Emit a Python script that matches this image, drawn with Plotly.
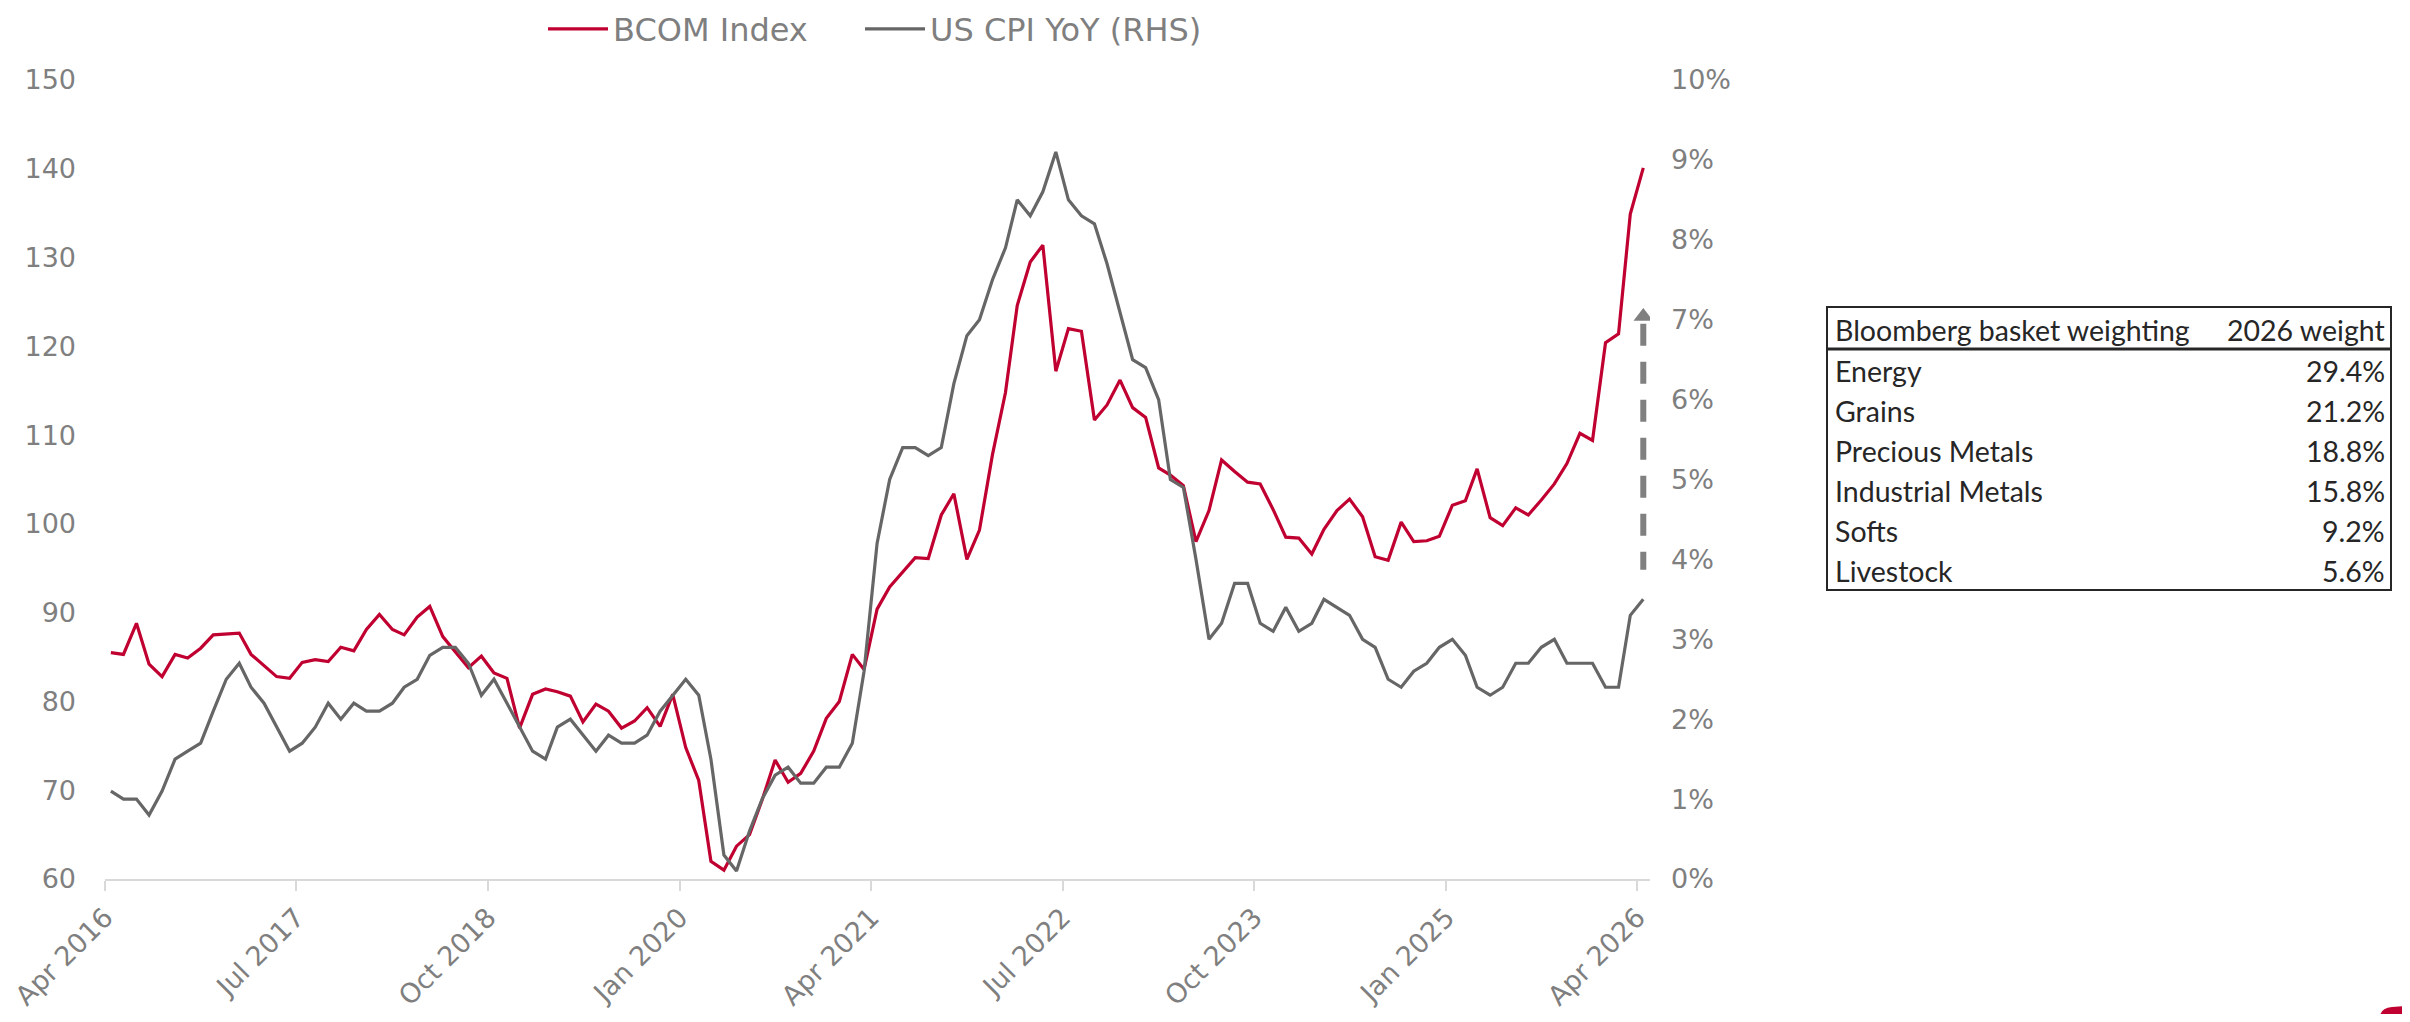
import pandas as pd
import plotly.graph_objects as go

# monthly series, Apr 2016 .. Apr 2026
bcom_index = [
    85.5, 85.3, 88.8, 84.2, 82.8, 85.3, 84.9, 86.0, 87.5, 87.6, 87.7, 85.3,
    84.0, 82.8, 82.6, 84.4, 84.7, 84.5, 86.1, 85.7, 88.1, 89.8, 88.1, 87.5,
    89.5, 90.7, 87.3, 85.6, 83.8, 85.1, 83.2, 82.6, 77.0, 80.8, 81.4, 81.1,
    80.6, 77.7, 79.7, 78.9, 77.0, 77.8, 79.3, 77.2, 80.8, 74.8, 71.1, 62.0,
    61.0, 63.7, 65.0, 68.9, 73.4, 70.9, 71.9, 74.4, 78.1, 80.0, 85.3, 83.6,
    90.4, 92.9, 94.6, 96.2, 96.1, 101.0, 103.4, 96.0, 99.3, 107.8, 114.8, 124.6,
    129.5, 131.4, 117.2, 122.0, 121.7, 111.7, 113.4, 116.2, 113.1, 112.0, 106.3, 105.5,
    104.3, 98.0, 101.5, 107.2, 105.9, 104.7, 104.5, 101.6, 98.5, 98.4, 96.6, 99.4,
    101.5, 102.8, 100.8, 96.3, 95.9, 100.2, 98.0, 98.1, 98.6, 102.1, 102.6, 106.2,
    100.7, 99.8, 101.8, 101.0, 102.7, 104.5, 106.8, 110.2, 109.4, 120.4, 121.4, 134.9,
    140.1,
]
us_cpi_yoy = [
    1.1, 1.0, 1.0, 0.8, 1.1, 1.5, 1.6, 1.7, 2.1, 2.5, 2.7, 2.4,
    2.2, 1.9, 1.6, 1.7, 1.9, 2.2, 2.0, 2.2, 2.1, 2.1, 2.2, 2.4,
    2.5, 2.8, 2.9, 2.9, 2.7, 2.3, 2.5, 2.2, 1.9, 1.6, 1.5, 1.9,
    2.0, 1.8, 1.6, 1.8, 1.7, 1.7, 1.8, 2.1, 2.3, 2.5, 2.3, 1.5,
    0.3, 0.1, 0.6, 1.0, 1.3, 1.4, 1.2, 1.2, 1.4, 1.4, 1.7, 2.6,
    4.2, 5.0, 5.4, 5.4, 5.3, 5.4, 6.2, 6.8, 7.0, 7.5, 7.9, 8.5,
    8.3, 8.6, 9.1, 8.5, 8.3, 8.2, 7.7, 7.1, 6.5, 6.4, 6.0, 5.0,
    4.9, 4.0, 3.0, 3.2, 3.7, 3.7, 3.2, 3.1, 3.4, 3.1, 3.2, 3.5,
    3.4, 3.3, 3.0, 2.9, 2.5, 2.4, 2.6, 2.7, 2.9, 3.0, 2.8, 2.4,
    2.3, 2.4, 2.7, 2.7, 2.9, 3.0, 2.7, 2.7, 2.7, 2.4, 2.4, 3.3,
    3.5,
]
months = pd.date_range("2016-04-01", periods=len(bcom_index), freq="MS") + pd.Timedelta(days=14)

basket_sectors = ["Energy", "Grains", "Precious Metals", "Industrial Metals", "Softs", "Livestock"]
basket_weights = [29.4, 21.2, 18.8, 15.8, 9.2, 5.6]

arrow_from, arrow_to = 3.87, 6.95  # % on the right axis

RED = "#C00030"
GREY = "#666666"
TXT = "#7F7F7F"

# page coordinates (the browser body adds an 8px margin round the figure)
PAGE, BODY = (2410, 1022), 8
W, H = PAGE[0] - 2 * BODY, PAGE[1] - 2 * BODY
L, R, T, B = 105, 1650, 80, 879   # plot area on the page


def px(x):
    return (x - L) / (R - L)


def py(y):
    return (B - y) / (B - T)


fig = go.Figure()
fig.add_trace(go.Scatter(x=months, y=bcom_index, name="BCOM Index", mode="lines",
                         line=dict(color=RED, width=3.2), legend="legend"))
fig.add_trace(go.Scatter(x=months, y=us_cpi_yoy, name="US CPI YoY (RHS)", mode="lines",
                         line=dict(color=GREY, width=3.2), yaxis="y2", legend="legend2"))

# dashed up-arrow after the last CPI print
fig.add_trace(go.Scatter(x=[months[-1], months[-1]], y=[arrow_to, arrow_from], mode="lines",
                         line=dict(color="#808080", width=6, dash="22px,16px"),
                         yaxis="y2", showlegend=False, hoverinfo="skip"))
fig.add_trace(go.Scatter(x=[months[-1]], y=[arrow_to + 0.09], mode="markers",
                         marker=dict(symbol="triangle-up", size=17, color="#808080"),
                         yaxis="y2", showlegend=False, hoverinfo="skip"))

# weighting table
tl, tr, tt, tb = 1827, 2391, 307, 590
row_h = 40
shapes = [
    dict(type="rect", xref="paper", yref="paper", x0=px(tl), x1=px(tr), y0=py(tb), y1=py(tt),
         line=dict(color="#262626", width=2)),
    dict(type="line", xref="paper", yref="paper", x0=px(tl), x1=px(tr), y0=py(349), y1=py(349),
         line=dict(color="#262626", width=3)),
    dict(type="path", xref="paper", yref="paper",
         path=f"M {px(2380)} {py(1030)} L {px(2380)} {py(1016)} Q {px(2381)} {py(1008)} {px(2392)} {py(1007)} "
              f"L {px(2420)} {py(1005)} L {px(2420)} {py(1030)} Z",
         fillcolor=RED, line=dict(width=0)),
]
annotations = []
tfont = dict(family="Lato", size=28.5, color="#262626")
header_y = 330
annotations.append(dict(x=px(1833), y=py(header_y), xref="paper", yref="paper", text="Bloomberg basket weighting",
                        showarrow=False, xanchor="left", yanchor="middle", font=tfont))
annotations.append(dict(x=px(2387), y=py(header_y), xref="paper", yref="paper", text="2026 weight",
                        showarrow=False, xanchor="right", yanchor="middle", font=tfont))
for k, (name, w) in enumerate(zip(basket_sectors, basket_weights)):
    yy = 371 + k * row_h
    annotations.append(dict(x=px(1833), y=py(yy), xref="paper", yref="paper", text=name,
                            showarrow=False, xanchor="left", yanchor="middle", font=tfont))
    annotations.append(dict(x=px(2387), y=py(yy), xref="paper", yref="paper", text=f"{w:.1f}%",
                            showarrow=False, xanchor="right", yanchor="middle", font=tfont))

legend_style = dict(orientation="h", y=py(29), xanchor="left", yanchor="middle",
                    font=dict(size=32, color=TXT), itemwidth=60, bgcolor="rgba(0,0,0,0)")

fig.update_layout(
    width=W, height=H,
    margin=dict(l=L - BODY, r=PAGE[0] - BODY - R, t=T - BODY, b=PAGE[1] - BODY - B, autoexpand=False),
    plot_bgcolor="white", paper_bgcolor="white",
    font=dict(family="DejaVu Sans", size=27, color=TXT),
    showlegend=True,
    legend=dict(x=px(543), **legend_style),
    legend2=dict(x=px(860), **legend_style),
    xaxis=dict(type="date", range=["2016-04-01", "2026-05-01"], tick0="2016-04-01", dtick="M15",
               tickformat="%b %Y", tickangle=-45, showgrid=False, zeroline=False,
               showline=True, linecolor="#D9D9D9", linewidth=2, automargin=False,
               ticks="outside", ticklen=10, tickcolor="#D9D9D9", tickwidth=2),
    yaxis=dict(range=[60, 150], dtick=10, showgrid=False, zeroline=False, ticks="",
               ticklabelstandoff=28, automargin=False),
    yaxis2=dict(range=[0, 10], dtick=1, ticksuffix="%", overlaying="y", side="right",
                showgrid=False, zeroline=False, ticks="", ticklabelstandoff=20, automargin=False),
    shapes=shapes,
    annotations=annotations,
)

fig.write_html("out.html")
